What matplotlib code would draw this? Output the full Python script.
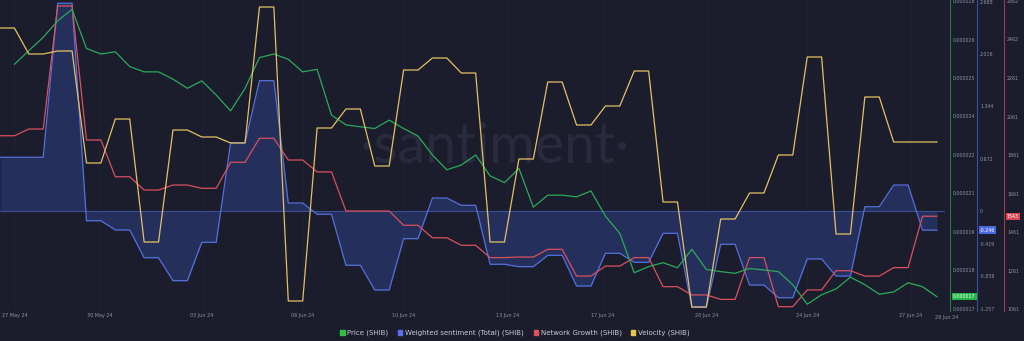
import numpy as np
import matplotlib
matplotlib.use("Agg")
import matplotlib.pyplot as plt
from matplotlib.patches import Patch

# daily series, first day = 26 May 24 (12:00)
sentiment = [0.691, 0.691, 2.671, -0.125, -0.244, -0.601, -0.896, -0.403, 0.878, 1.676,
             0.103, -0.042, -0.698, -1.016, -0.356, 0.167, 0.073, -0.685, -0.716, -0.570,
             -0.965, -0.544, -0.660, -0.287, -1.238, -0.428, -0.952, -1.115, -0.617, -0.836,
             0.055, 0.334, -0.246]
network = [1961, 1996, 2635, 1939, 1748, 1679, 1705, 1688, 1823, 1948,
           1835, 1773, 1570, 1570, 1496, 1431, 1392, 1328, 1331, 1371,
           1232, 1284, 1328, 1177, 1134, 1111, 1328, 1073, 1160, 1260,
           1232, 1276, 1543]
velocity = [2.83, 2.57, 2.60, 1.48, 1.92, 0.69, 1.81, 1.74, 1.68, 3.04,
            0.10, 1.83, 2.02, 1.45, 2.41, 2.53, 2.38, 0.69, 1.52, 2.29,
            1.86, 2.05, 2.40, 1.09, 0.04, 0.92, 1.18, 1.56, 2.54, 0.77,
            2.14, 1.69, 1.69]

# price every 12 hours, starting 27 May 24 00:00
price = np.array([25.47, 25.96, 26.44, 27.03, 27.44, 26.04, 25.84, 25.92, 25.39, 25.20,
                  25.20, 24.94, 24.61, 24.88, 24.37, 23.80, 24.61, 25.71, 25.84, 25.65,
                  25.20, 25.29, 23.65, 23.30, 23.23, 23.17, 23.47, 23.17, 22.90, 22.22,
                  21.69, 21.86, 22.22, 21.47, 21.23, 21.74, 20.35, 20.78, 20.78, 20.72,
                  20.93, 20.03, 19.41, 18.00, 18.22, 18.36, 18.18, 18.84, 18.12, 18.04,
                  17.98, 18.15, 18.10, 18.04, 17.57, 16.87, 17.21, 17.42, 17.84, 17.57,
                  17.23, 17.31, 17.64, 17.50, 17.14]) * 1e-6

date_labels = ["27 May 24", "30 May 24", "03 Jun 24", "06 Jun 24", "10 Jun 24",
               "13 Jun 24", "17 Jun 24", "20 Jun 24", "24 Jun 24", "27 Jun 24"]
date_ticks = [0.5, 3.45, 7.0, 10.5, 14.0, 17.6, 20.9, 24.5, 28.0, 31.6]

price_ticks = [16.7e-6 + k * 1.38e-6 for k in range(9)]
sent_ticks = [-1.257, -0.838, -0.419, 0, 0.672, 1.344, 2.016, 2.688]
sent_labels = ["-1.257", "-0.838", "-0.419", "0", "0.672", "1.344", "2.016", "2.688"]
net_ticks = [1061, 1261, 1461, 1661, 1861, 2061, 2261, 2462, 2662]

BG = "#1b1d2d"
GREEN = "#2ea85a"
BLUE = "#5570dc"
RED = "#d9505f"
YELLOW = "#e4c064"
TXT = "#8e93a4"

day_x = np.arange(66) / 2
price_x = np.arange(1, 66) / 2


def held(values):
    return np.repeat(values, 2)


fig = plt.figure(figsize=(10.24, 3.41), dpi=100, facecolor=BG)
ax = fig.add_axes([0, 30 / 341, 945 / 1024, 311 / 341], facecolor=BG)
ax.set_xlim(0, 32.78)
ax.set_ylim(0, 1)
ax.set_yticks([])
ax.set_xticks(date_ticks)
ax.set_xticklabels(date_labels, color=TXT, fontsize=3.5)
ax.tick_params(axis="x", length=0, pad=1.5)
for s in ax.spines.values():
    s.set_visible(False)
for t in date_ticks:
    ax.axvline(t, color="#202335", lw=0.5, zorder=0)
ax.text(32.85, -0.012, "28 Jun 24", color=TXT, fontsize=3.5, ha="center", va="top",
        transform=ax.get_xaxis_transform(), clip_on=False)
ax.text(0.524, 0.525, "·santiment·", color="#282b3e", fontsize=40, ha="center",
        va="center", transform=ax.transAxes, family="Lato")


def side_axis(pos, color, lim, ticks, labels):
    a = ax.twinx()
    a.set_ylim(*lim)
    for name, s in a.spines.items():
        s.set_visible(name == "right")
    a.spines["right"].set_position(("axes", pos))
    a.spines["right"].set_color(color)
    a.spines["right"].set_linewidth(0.8)
    a.set_yticks(ticks)
    a.set_yticklabels(labels, color=TXT, fontsize=3.4)
    a.tick_params(axis="y", length=0, pad=2.2)
    return a


ax_s = side_axis(977 / 945, "#3b4fa0", (-1.286, 2.713), sent_ticks, sent_labels)
ax_s.axhline(0, color="#3d4f92", lw=0.8)
ax_s.fill_between(day_x, held(sentiment), 0, color="#3350a8", alpha=0.38, lw=0)
ax_s.plot(day_x, held(sentiment), color=BLUE, lw=0.9)

ax_n = side_axis(1004 / 945, "#a03a4c", (1050.6, 2666.3), net_ticks,
                 [str(v) for v in net_ticks])
ax_n.plot(day_x, held(network), color=RED, lw=0.9)

ax_p = side_axis(950 / 945, "#1f7a45", (16.628e-6, 27.776e-6), price_ticks,
                 ["%.6f" % v for v in price_ticks])
ax_p.plot(price_x, price, color=GREEN, lw=0.9)

ax_v = ax.twinx()
ax_v.set_ylim(0, 3.11)
ax_v.axis("off")
ax_v.plot(day_x, held(velocity), color=YELLOW, lw=0.9)

# last-value badges on the side axes
badge = dict(boxstyle="square,pad=0.25", lw=0)
ax_p.text(950 / 945 + 0.003, price[-1], "%.6f" % price[-1], transform=ax_p.get_yaxis_transform(),
          fontsize=3.4, color="white", va="center", ha="left",
          bbox=dict(badge, fc="#22b545"), clip_on=False)
ax_s.text(977 / 945 + 0.003, sentiment[-1], "%.3f" % sentiment[-1],
          transform=ax_s.get_yaxis_transform(), fontsize=3.4, color="white", va="center",
          ha="left", bbox=dict(badge, fc="#4a68e0"), clip_on=False)
ax_n.text(1004 / 945 + 0.003, network[-1], str(network[-1]),
          transform=ax_n.get_yaxis_transform(), fontsize=3.4, color="white", va="center",
          ha="left", bbox=dict(badge, fc="#d94656"), clip_on=False)

handles = [Patch(color="#2ec046", label="Price (SHIB)"),
           Patch(color="#5a6ff0", label="Weighted sentiment (Total) (SHIB)"),
           Patch(color="#e0505e", label="Network Growth (SHIB)"),
           Patch(color="#e8c54e", label="Velocity (SHIB)")]
leg = fig.legend(handles=handles, loc="center", bbox_to_anchor=(0.503, 0.023), ncol=4,
                 frameon=False, fontsize=5, handlelength=0.6, handleheight=0.6,
                 handletextpad=0.4, columnspacing=1.4)
for t in leg.get_texts():
    t.set_color("#c8cbd4")

fig.savefig("out.png", dpi=100, facecolor=BG)
